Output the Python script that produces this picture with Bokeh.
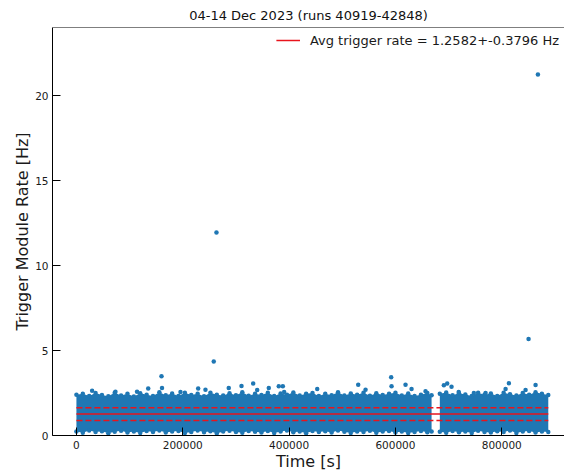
from bokeh.plotting import figure
from bokeh.models import Range1d, FixedTicker, BasicTickFormatter, Span
from bokeh.embed import file_html
from bokeh.resources import INLINE

# ---------------- data ----------------
title_text = "04-14 Dec 2023 (runs 40919-42848)"
x_label = "Time [s]"
y_label = "Trigger Module Rate [Hz]"
avg_rate = 1.2582
std_rate = 0.3796
legend_text = "Avg trigger rate = 1.2582+-0.3796 Hz"

x_ticks = [0, 200000, 400000, 600000, 800000]
y_ticks = [0, 5, 10, 15, 20]

# dense band: estimated upper / lower envelope of the point cloud, first run block
seg1_t = [0, 12000, 24000, 36000, 48000, 60000, 72000, 84000, 96000, 108000,
          120000, 132000, 144000, 156000, 168000, 180000, 192000, 204000, 216000, 228000,
          240000, 252000, 264000, 276000, 288000, 300000, 312000, 324000, 336000, 348000,
          360000, 372000, 384000, 396000, 408000, 420000, 432000, 444000, 456000, 468000,
          480000, 492000, 504000, 516000, 528000, 540000, 552000, 564000, 576000, 588000,
          600000, 612000, 624000, 636000, 648000, 660000, 668000]
seg1_hi = [2.40, 2.46, 2.33, 2.50, 2.38, 2.31, 2.52, 2.36, 2.45, 2.30,
           2.48, 2.39, 2.33, 2.54, 2.37, 2.47, 2.32, 2.51, 2.38, 2.46,
           2.31, 2.52, 2.40, 2.35, 2.49, 2.37, 2.55, 2.34, 2.46, 2.38,
           2.51, 2.32, 2.47, 2.39, 2.53, 2.36, 2.45, 2.50, 2.33, 2.46,
           2.37, 2.54, 2.35, 2.47, 2.39, 2.51, 2.34, 2.49, 2.38, 2.45,
           2.52, 2.36, 2.47, 2.32, 2.39, 2.50, 2.37]
seg1_lo = [0.24, 0.16, 0.29, 0.20, 0.25, 0.13, 0.22, 0.28, 0.18, 0.24,
           0.15, 0.27, 0.21, 0.30, 0.17, 0.23, 0.26, 0.14, 0.21, 0.29,
           0.19, 0.25, 0.12, 0.23, 0.28, 0.20, 0.16, 0.27, 0.22, 0.18,
           0.26, 0.15, 0.24, 0.30, 0.19, 0.23, 0.13, 0.27, 0.21, 0.25,
           0.17, 0.29, 0.22, 0.14, 0.24, 0.20, 0.28, 0.16, 0.23, 0.26,
           0.18, 0.24, 0.15, 0.21, 0.27, 0.19, 0.23]

# second run block (after the gap)
seg2_t = [683500, 695500, 707500, 719500, 731500, 743500, 755500, 767500, 779500,
          791500, 803500, 815500, 827500, 839500, 851500, 863500, 875500, 887500]
seg2_hi = [2.46, 2.53, 2.37, 2.49, 2.41, 2.33, 2.51, 2.39, 2.47, 2.32,
           2.52, 2.42, 2.35, 2.50, 2.40, 2.54, 2.45, 2.38]
seg2_lo = [0.22, 0.16, 0.27, 0.19, 0.24, 0.14, 0.28, 0.21, 0.17,
           0.25, 0.20, 0.29, 0.15, 0.23, 0.26, 0.18, 0.24, 0.21]

# individual points standing above the band (bumps and outliers)
spike_t = [29500, 73400, 114000, 135000, 161000, 160000, 195700, 229000, 242700, 258300,
           263400, 286500, 310500, 332400, 340000, 361800, 380600, 388200, 390700, 452900,
           530000, 543800, 592000, 592700, 619000, 630300, 656600, 691100, 697400, 705500,
           719000, 747500, 769500, 807200, 813400, 844800, 850400, 863600, 868000]
spike_rate = [2.63, 2.58, 2.58, 2.77, 2.79, 3.49, 2.56, 2.77, 2.69, 4.36,
              11.94, 2.79, 2.91, 3.06, 2.67, 2.79, 2.90, 2.90, 2.56, 2.73,
              2.98, 2.69, 3.43, 2.89, 2.98, 2.73, 2.60, 2.95, 3.06, 2.87,
              2.56, 2.50, 2.50, 2.73, 3.08, 2.67, 5.68, 2.97, 21.24]

BLUE = "#1f77b4"
RED = "#e8141c"
FONT = "DejaVu Sans"

p = figure(width=564, height=473, output_backend="svg", toolbar_location=None,
           x_range=Range1d(-45000, 918000), y_range=Range1d(0, 24),
           min_border_left=52, min_border_right=0, min_border_top=24, min_border_bottom=37,
           title=title_text)
p.outline_line_color = None
p.grid.visible = False
p.background_fill_color = "white"
p.border_fill_color = "white"

p.title.text_font = FONT
p.title.text_font_size = "13px"
p.title.text_font_style = "normal"
p.title.text_color = "#111111"
p.title.align = "center"

# band: filled core plus the envelope points themselves
for ts, hi, lo in ((seg1_t, seg1_hi, seg1_lo), (seg2_t, seg2_hi, seg2_lo)):
    p.varea(x=ts, y1=lo, y2=hi, fill_color=BLUE, fill_alpha=1.0)
    p.scatter(x=ts, y=hi, size=4.5, fill_color=BLUE, line_color=None)
    p.scatter(x=ts, y=lo, size=4.5, fill_color=BLUE, line_color=None)

p.scatter(x=spike_t, y=spike_rate, size=4.5, fill_color=BLUE, line_color=None)

# average and +- std lines
t0 = seg1_t[0]
t1 = seg2_t[-1]
p.line(x=[t0, t1], y=[avg_rate, avg_rate], line_color=RED, line_width=1.5,
       legend_label=legend_text)
p.line(x=[t0, t1], y=[avg_rate + std_rate] * 2, line_color=RED, line_width=1.5,
       line_dash="6 3")
p.line(x=[t0, t1], y=[avg_rate - std_rate] * 2, line_color=RED, line_width=1.5,
       line_dash="6 3")

# top spine
p.add_layout(Span(location=24, dimension="width", line_color="black", line_width=1))

# axes
for ax in (p.xaxis[0], p.yaxis[0]):
    ax.axis_line_color = "black"
    ax.major_tick_line_color = "black"
    ax.major_tick_in = 8
    ax.major_tick_out = 0
    ax.minor_tick_in = 0
    ax.minor_tick_out = 0
    ax.major_label_text_font = FONT
    ax.major_label_text_font_size = "10.5px"
    ax.major_label_text_color = "#1a1a1a"
    ax.axis_label_text_font = FONT
    ax.axis_label_text_font_size = "16px"
    ax.axis_label_text_font_style = "normal"
    ax.axis_label_text_color = "#1a1a1a"

p.xaxis.ticker = FixedTicker(ticks=x_ticks)
p.yaxis.ticker = FixedTicker(ticks=y_ticks)
p.xaxis.formatter = BasicTickFormatter(use_scientific=False)
p.xaxis.axis_label = x_label
p.yaxis.axis_label = y_label
p.xaxis.major_label_standoff = 5
p.xaxis.axis_label_standoff = 0
p.yaxis.major_label_standoff = 4
p.yaxis.axis_label_standoff = 0

# legend
lg = p.legend[0]
lg.location = "top_right"
lg.border_line_color = None
lg.background_fill_alpha = 0
lg.label_text_font = FONT
lg.label_text_font_size = "13px"
lg.label_text_color = "#1a1a1a"
lg.glyph_width = 24
lg.label_standoff = 10
lg.label_height = 16
lg.glyph_height = 16
lg.margin = 5
lg.padding = 0

open("out.html", "w").write(file_html(p, INLINE))
